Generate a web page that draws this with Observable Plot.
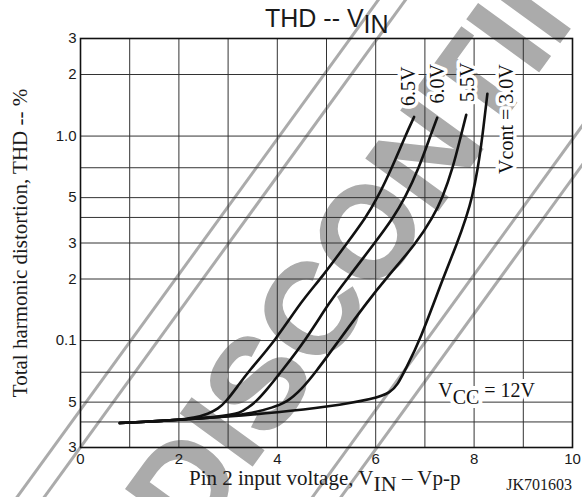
<!DOCTYPE html>
<html>
<head>
<meta charset="utf-8">
<script src="https://cdn.jsdelivr.net/npm/d3@7"></script>
<script src="https://cdn.jsdelivr.net/npm/@observablehq/plot@0.6"></script>
<style>
  body { margin: 0; background: #fff; }
  #chart svg { display: block; }
</style>
</head>
<body>
<div id="chart"></div>
<script>
// ---- Data ----
const xGrid = [0, 1, 2, 3, 4, 5, 6, 7, 8, 9, 10];
const xTickValues = [0, 2, 4, 6, 8, 10];
const yTicks = [0.03, 0.04, 0.05, 0.07, 0.1, 0.2, 0.3, 0.4, 0.5, 0.7, 1, 2, 3];
const yTickLabels = ["3", "", "5", "7", "0.1", "2", "3", "", "5", "7", "1.0", "2", "3"];

const seriesNames = ["6.5V", "6.0V", "5.5V", "Vcont = 3.0V"];

const vin65 = [0.8, 1.5, 2.0, 2.3, 2.6, 2.8, 2.95, 3.2, 3.4, 3.96, 4.5, 4.88, 5.42, 5.8, 6.04, 6.33, 6.6, 6.78];
const thd65 = [0.0395, 0.0403, 0.041, 0.0418, 0.0438, 0.0465, 0.05, 0.06, 0.07, 0.1, 0.157, 0.2, 0.3, 0.4, 0.5, 0.7, 1.0, 1.24];

const vin60 = [0.8, 1.5, 2.0, 2.5, 2.9, 3.25, 3.4, 3.56, 3.8, 4.07, 4.57, 5.08, 5.42, 5.98, 6.36, 6.6, 6.88, 7.11, 7.25];
const thd60 = [0.0395, 0.0403, 0.041, 0.0418, 0.0428, 0.0442, 0.047, 0.05, 0.058, 0.07, 0.1, 0.157, 0.2, 0.3, 0.4, 0.5, 0.7, 1.0, 1.23];

const vin55 = [0.8, 1.5, 2.0, 2.5, 3.0, 3.5, 3.9, 4.2, 4.5, 4.78, 5.25, 5.85, 6.2, 6.83, 7.16, 7.36, 7.57, 7.73, 7.84];
const thd55 = [0.0395, 0.0403, 0.041, 0.0417, 0.0427, 0.0442, 0.047, 0.05, 0.058, 0.07, 0.1, 0.157, 0.2, 0.3, 0.4, 0.5, 0.7, 1.0, 1.27];

const vin30 = [0.8, 1.5, 2.0, 3.0, 4.0, 5.0, 6.0, 6.3, 6.45, 6.6, 6.9, 7.36, 7.66, 7.84, 7.96, 8.08, 8.17, 8.27];
const thd30 = [0.0395, 0.0403, 0.041, 0.0425, 0.0445, 0.0473, 0.052, 0.0558, 0.061, 0.072, 0.1, 0.2, 0.3, 0.4, 0.5, 0.7, 1.0, 1.61];

// curve label anchors (data coordinates)
const labelX = [6.67, 7.26, 7.87, 8.67];
const labelY = [1.75, 1.80, 1.83, 1.21];

// ---- Build tables ----
const seriesX = [vin65, vin60, vin55, vin30];
const seriesY = [thd65, thd60, thd55, thd30];
const curveData = seriesNames.flatMap((name, s) =>
  seriesX[s].map((v, i) => ({series: name, vin: v, thd: seriesY[s][i]})));
const labelData = seriesNames.map((name, i) => ({text: name, x: labelX[i], y: labelY[i]}));

const serif = "'Liberation Serif', 'Times New Roman', serif";
const sans = "'Liberation Sans', Arial, sans-serif";

const plot = Plot.plot({
  width: 582,
  height: 497,
  marginLeft: 80,
  marginRight: 10,
  marginTop: 38,
  marginBottom: 50,
  style: {fontFamily: sans, fontSize: "15px", color: "#1a1a1a", background: "#fff", overflow: "visible"},
  x: {domain: [0, 10]},
  y: {type: "log", domain: [0.03, 3]},
  marks: [
    Plot.ruleX(xGrid, {stroke: "#333", strokeWidth: 1}),
    Plot.ruleY(yTicks, {stroke: "#333", strokeWidth: 1}),
    Plot.frame({stroke: "#111", strokeWidth: 1.6}),
    Plot.axisX(xTickValues, {tickSize: 0, tickPadding: 6, label: null, fontSize: 15, tickFormat: d => String(d)}),
    Plot.axisY(yTicks, {tickSize: 0, tickPadding: 4, label: null, fontSize: 15,
      tickFormat: d => yTickLabels[yTicks.indexOf(d)]}),
    Plot.line(curveData, {x: "vin", y: "thd", z: "series", stroke: "#111", strokeWidth: 2.6, curve: "basis"}),
    Plot.text(labelData, {x: "x", y: "y", text: "text", rotate: -90, textAnchor: "middle", lineAnchor: "middle",
      fontFamily: serif, fontSize: 20, fill: "#111", stroke: "white", strokeWidth: 7})
  ]
});

document.getElementById("chart").appendChild(plot);

const svg = d3.select(plot);
const xs = plot.scale("x"), ys = plot.scale("y");

// ---- "DISCONTINUED" watermark (behind the grid) ----
const wm = svg.insert("g", "g").attr("transform", "rotate(-54)");
wm.append("text")
  .attr("x", -330).attr("y", 478).attr("text-anchor", "start")
  .attr("font-family", sans).attr("font-weight", "bold").attr("font-size", 129)
  .attr("fill", "#ababab").attr("stroke", "#ababab").attr("stroke-width", 1.5)
  .text("DISCONTINUED");
[306, 328, 545, 568].forEach(v =>
  wm.append("line").attr("x1", -800).attr("x2", 800).attr("y1", v).attr("y2", v)
    .attr("stroke", "#ababab").attr("stroke-width", 3));

// ---- Text annotations with subscripts ----
const title = svg.append("text")
  .attr("x", 265).attr("y", 27).attr("text-anchor", "start")
  .attr("font-family", sans).attr("font-size", 25).attr("fill", "#1a1a1a");
title.append("tspan").text("THD -- V");
title.append("tspan").attr("dy", 6).text("IN");

svg.append("text")
  .attr("transform", "translate(27,243) rotate(-90)")
  .attr("text-anchor", "middle")
  .attr("font-family", serif).attr("font-size", 21).attr("fill", "#1a1a1a")
  .text("Total harmonic distortion, THD -- %");

const xl = svg.append("text")
  .attr("x", 189).attr("y", 485).attr("text-anchor", "start")
  .attr("font-family", serif).attr("font-size", 21).attr("fill", "#1a1a1a");
xl.append("tspan").text("Pin 2 input voltage, V");
xl.append("tspan").attr("dy", 6).attr("font-size", 22).text("IN");
xl.append("tspan").attr("dy", -6).text(" – Vp-p");

svg.append("text")
  .attr("x", 572).attr("y", 490).attr("text-anchor", "end")
  .attr("font-family", serif).attr("font-size", 16).attr("fill", "#1a1a1a")
  .text("JK701603");

const vccX = 7.28, vccY = 0.0524;
const vcc = svg.append("text")
  .attr("x", xs.apply(vccX)).attr("y", ys.apply(vccY)).attr("text-anchor", "start")
  .attr("font-family", serif).attr("font-size", 20).attr("fill", "#111")
  .attr("stroke", "white").attr("stroke-width", 8).attr("paint-order", "stroke")
  .attr("stroke-linejoin", "round");
vcc.append("tspan").text("V");
vcc.append("tspan").attr("dy", 7).text("CC");
vcc.append("tspan").attr("dy", -7).text(" = 12V");
</script>
</body>
</html>
